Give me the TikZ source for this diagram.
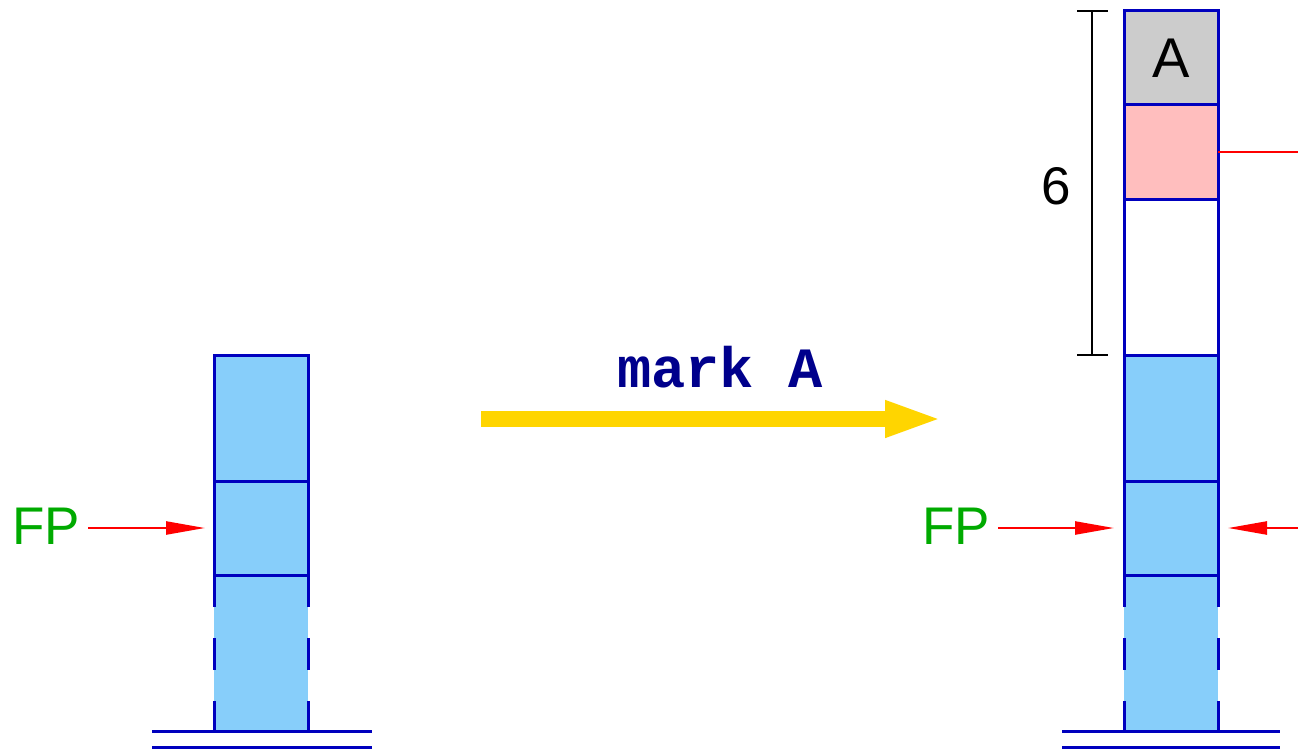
\documentclass[tikz,border=0pt]{standalone}
\usepackage{fontspec}
\setmainfont{Liberation Sans}
\newfontfamily\monob{Liberation Mono}
\usetikzlibrary{arrows.meta}
\definecolor{cellblue}{RGB}{135,206,250}
\definecolor{edgeblue}{RGB}{0,0,190}
\definecolor{cellpink}{RGB}{255,190,190}
\definecolor{cellgray}{RGB}{204,204,204}
\definecolor{fpgreen}{RGB}{0,170,0}
\definecolor{textblue}{RGB}{0,0,140}
\definecolor{goldy}{RGB}{255,213,0}
\definecolor{redline}{RGB}{255,0,0}
\begin{document}
\begin{tikzpicture}[x=1pt,y=-1pt,
  cell/.style={draw=edgeblue,line width=3pt,minimum width=94pt,inner sep=0pt,outer sep=0pt,anchor=north west},
  fillonly/.style={fill=cellblue,draw=none,minimum width=94pt,inner sep=0pt,outer sep=0pt,anchor=north west,minimum height=156pt},
  sidedash/.style={draw=edgeblue,line width=3pt,dash pattern=on 32pt off 31pt},
  floor/.style={draw=edgeblue,line width=3pt},
  fplabel/.style={text=fpgreen,font=\fontsize{53}{60}\selectfont,inner sep=0pt},
  redarrow/.style={draw=redline,line width=2.4pt,-{Triangle[length=39pt,width=13pt]}},
  bigtext/.style={font=\fontsize{53}{60}\selectfont,inner sep=0pt}]
\useasboundingbox (0,0) rectangle (1298,749);

% ---- left stack ----
\node[fillonly] (ld) at (214,575) {};
\draw[sidedash] (ld.north west) -- (ld.south west);
\draw[sidedash] (ld.north east) -- (ld.south east);
\node[cell,fill=cellblue,minimum height=94pt] (lb1) at (214,481) {};
\node[cell,fill=cellblue,minimum height=126pt] (lb2) at (214,355) {};
\draw[floor] ([xshift=-62pt]ld.south west) -- ([xshift=64pt]ld.south east);
\draw[floor] ([xshift=-62pt,yshift=-16pt]ld.south west) -- ([xshift=64pt,yshift=-16pt]ld.south east);

\node[fplabel] (fp1) at (46,526) {FP};
\draw[redarrow] ([xshift=8pt]fp1.east |- lb1.west) -- ([xshift=-9pt]lb1.west);

% ---- transition arrow ----
\coordinate (ts) at (481,419);
\coordinate (te) at (943,419);
\draw[goldy,line width=16pt,-{Triangle[length=58pt,width=33pt]}] (ts) -- (te);
\node[text=textblue,font=\monob\bfseries\fontsize{57}{60}\selectfont,inner sep=0pt,anchor=base] (mk) at (720,387) {mark A};

% ---- right stack ----
\node[fillonly] (rd) at (1124,575) {};
\draw[sidedash] (rd.north west) -- (rd.south west);
\draw[sidedash] (rd.north east) -- (rd.south east);
\node[cell,fill=cellblue,minimum height=94pt] (rb1) at (1124,481) {};
\node[cell,fill=cellblue,minimum height=126pt] (rb2) at (1124,355) {};
\node[cell,fill=white,minimum height=156pt] (rw) at (1124,199) {};
\node[cell,fill=cellpink,minimum height=94pt] (rp) at (1124,105) {};
\node[cell,fill=cellgray,minimum height=94pt,font=\fontsize{56}{60}\selectfont] (ra) at (1124,11) {A};
\draw[floor] ([xshift=-62pt]rd.south west) -- ([xshift=62pt]rd.south east);
\draw[floor] ([xshift=-62pt,yshift=-16pt]rd.south west) -- ([xshift=62pt,yshift=-16pt]rd.south east);

\node[fplabel] (fp2) at (956,526) {FP};
\draw[redarrow] ([xshift=8pt]fp2.east |- rb1.west) -- ([xshift=-10pt]rb1.west);
\coordinate (rin) at (1298,528);
\draw[redarrow] (rin) -- ([xshift=10pt]rb1.east);
\coordinate (rout) at (1298,152);
\draw[redline,line width=2.4pt] (rp.east) -- (rout);

% ---- size bar ----
\coordinate (bt) at (1092,11);
\coordinate (bb) at (1092,355);
\draw[black,line width=2.4pt] (bt) -- (bb);
\draw[black,line width=2.4pt] ([xshift=-15pt]bt) -- ([xshift=16pt]bt);
\draw[black,line width=2.4pt] ([xshift=-15pt]bb) -- ([xshift=16pt]bb);
\node[bigtext] (six) at (1056,186) {6};
\end{tikzpicture}
\end{document}
